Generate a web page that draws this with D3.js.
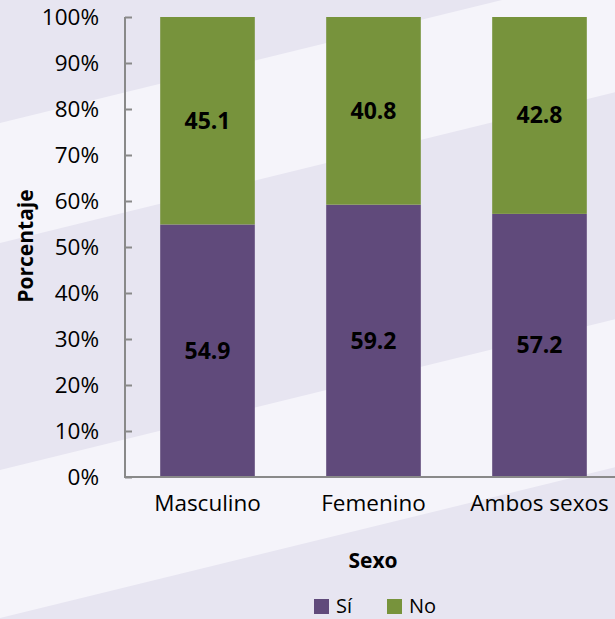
<!DOCTYPE html>
<html>
<head>
<meta charset="utf-8">
<script src="https://cdn.jsdelivr.net/npm/d3@7"></script>
<style>
  body { margin: 0; background: #e7e5f1; }
  svg { display: block; font-family: "Open Sans", sans-serif; }
</style>
</head>
<body>
<script>
// data
var categories = ['Masculino', 'Femenino', 'Ambos sexos']
var siValues = [54.9, 59.2, 57.2]
var noValues = [45.1, 40.8, 42.8]
var seriesNames = ['Sí', 'No']
var seriesColors = ['#604a7b', '#77933c']
var yTicks = [0, 10, 20, 30, 40, 50, 60, 70, 80, 90, 100]

var width = 615,
    height = 619

var svg = d3.select('body').append('svg')
    .attr('width', width)
    .attr('height', height)

// background diagonal bands
var bg = svg.append('g')
bg.append('rect').attr('width', width).attr('height', height).attr('fill', '#e7e5f1')
var bands = [[123, 243], [470, 618]]
bands.forEach(function(b) {
  bg.append('path')
    .attr('d', 'M0,' + b[0] + ' L' + width + ',' + (b[0] - 0.245 * width) +
      ' L' + width + ',' + (b[1] - 0.245 * width) + ' L0,' + b[1] + 'Z')
    .attr('fill', '#f5f4fa')
})

var x = d3.scaleBand()
    .domain(categories)
    .range([124.5, 622.5])
    .paddingInner(0.43)
    .paddingOuter(0.215)

var y = d3.scaleLinear()
    .domain([0, 100])
    .range([477, 17])

var stackData = categories.map(function(c, i) {
  return {cat: c, 'Sí': siValues[i], 'No': noValues[i]}
})
var series = d3.stack().keys(seriesNames)(stackData)

var g = svg.append('g')

g.selectAll('g.series')
  .data(series)
  .enter().append('g')
    .attr('class', 'series')
    .attr('fill', function(d, i) { return seriesColors[i] })
  .selectAll('rect')
  .data(function(d) { return d })
  .enter().append('rect')
    .attr('x', function(d) { return x(d.data.cat) })
    .attr('width', x.bandwidth())
    .attr('y', function(d) { return y(d[1]) })
    .attr('height', function(d) { return y(d[0]) - y(d[1]) })

// value labels
series.forEach(function(s) {
  g.selectAll(null)
    .data(s)
    .enter().append('text')
      .attr('x', function(d) { return x(d.data.cat) + x.bandwidth() / 2 })
      .attr('y', function(d) { return (y(d[0]) + y(d[1])) / 2 })
      .attr('dy', '0.35em')
      .attr('text-anchor', 'middle')
      .attr('font-weight', 'bold')
      .attr('font-size', '23px')
      .attr('fill', '#000')
      .text(function(d) { return (d[1] - d[0]).toFixed(1) })
})

// y axis
var yAxis = d3.axisRight(y)
    .tickValues(yTicks)
    .tickSize(7)
    .tickFormat(function(d) { return d + '%' })

var ya = svg.append('g')
    .attr('transform', 'translate(125,0)')
    .call(yAxis)
ya.select('.domain').attr('stroke', '#898989').attr('stroke-width', 2)
  .attr('d', 'M0,' + y(100) + 'V' + y(0))
ya.selectAll('.tick line').attr('stroke', '#898989').attr('stroke-width', 2)
ya.selectAll('.tick text')
  .attr('x', -26)
  .attr('text-anchor', 'end')
  .attr('font-size', '22.5px')
  .attr('font-family', '"Open Sans", sans-serif')
  .attr('fill', '#000')

// x axis
var xAxis = d3.axisBottom(x).tickSize(0).tickPadding(18)
var xa = svg.append('g')
    .attr('transform', 'translate(0,477)')
    .call(xAxis)
xa.select('.domain').attr('stroke', '#898989').attr('stroke-width', 2)
  .attr('d', 'M124,0H' + width)
xa.selectAll('.tick text')
  .attr('font-size', '22.5px')
  .attr('font-family', '"Open Sans", sans-serif')
  .attr('fill', '#000')

// axis titles
svg.append('text')
  .attr('x', 373)
  .attr('y', 568)
  .attr('text-anchor', 'middle')
  .attr('font-weight', 'bold')
  .attr('font-size', '21px')
  .text('Sexo')

svg.append('text')
  .attr('transform', 'translate(33,246) rotate(-90)')
  .attr('text-anchor', 'middle')
  .attr('font-weight', 'bold')
  .attr('font-size', '21px')
  .text('Porcentaje')

// legend
var legendX = [314, 387]
var legend = svg.selectAll('g.legend')
  .data(seriesNames)
  .enter().append('g')
    .attr('class', 'legend')
    .attr('transform', function(d, i) { return 'translate(' + legendX[i] + ',599)' })
legend.append('rect')
  .attr('width', 15)
  .attr('height', 15)
  .attr('fill', function(d, i) { return seriesColors[i] })
legend.append('text')
  .attr('x', 22)
  .attr('y', 14)
  .attr('font-size', '20px')
  .text(function(d) { return d })
</script>
</body>
</html>
